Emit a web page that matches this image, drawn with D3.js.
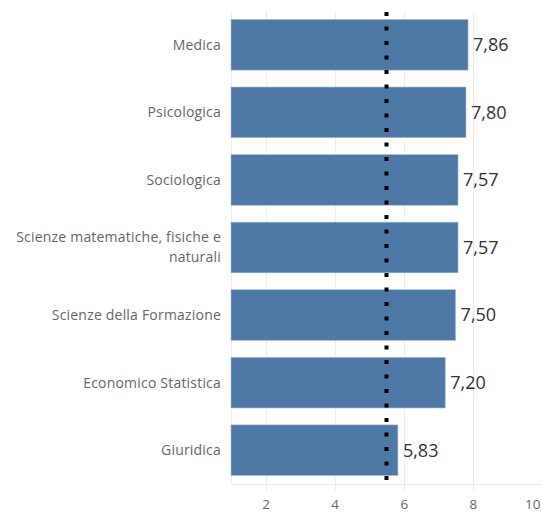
<!DOCTYPE html>
<html>
<head>
<meta charset="utf-8">
<script src="https://cdn.jsdelivr.net/npm/d3@7"></script>
<style>
  body { margin: 0; background: #fff; }
  .cat-label { font-family: "Open Sans", sans-serif; font-size: 14px; letter-spacing: 0.2px; fill: #666; }
  .val-label { font-family: "Open Sans", sans-serif; font-size: 18px; fill: #333; }
  .x-axis text { font-family: "Open Sans", sans-serif; font-size: 13.5px; fill: #666; }
</style>
</head>
<body>
<div id="chart"></div>
<script>
// data
var categories = [
    "Medica",
    "Psicologica",
    "Sociologica",
    "Scienze matematiche, fisiche e naturali",
    "Scienze della Formazione",
    "Economico Statistica",
    "Giuridica"
];
var values = [7.86, 7.80, 7.57, 7.57, 7.50, 7.20, 5.83];
var referenceValue = [5.5];
var xTicks = [2, 4, 6, 8, 10];

var width = 542, height = 515;

var x = d3.scaleLinear()
    .domain([1, 10])
    .range([231, 542]);

var y = d3.scaleBand()
    .domain(categories)
    .range([11, 484])
    .paddingInner(0.25)
    .paddingOuter(0.125);

var fmt = function(v) { return d3.format(".2f")(v).replace(".", ","); };

var svg = d3.select("#chart")
    .append("svg")
    .attr("width", width)
    .attr("height", height);

// gridlines + tick marks
svg.append("g")
    .selectAll("line")
    .data(xTicks)
    .join("line")
    .attr("x1", d => Math.round(x(d)) + 0.5)
    .attr("x2", d => Math.round(x(d)) + 0.5)
    .attr("y1", 11)
    .attr("y2", 491)
    .attr("stroke", "#ececec")
    .attr("stroke-width", 1);

// left edge + bottom axis line
svg.append("line")
    .attr("x1", x(1) + 0.5).attr("x2", x(1) + 0.5)
    .attr("y1", 11).attr("y2", 484)
    .attr("stroke", "#ececec");
svg.append("line")
    .attr("x1", x(1)).attr("x2", width)
    .attr("y1", 484.5).attr("y2", 484.5)
    .attr("stroke", "#ececec");

// x axis labels
var xAxis = svg.append("g")
    .attr("class", "x-axis")
    .attr("transform", "translate(0,484)")
    .call(d3.axisBottom(x).tickValues(xTicks).tickSize(0).tickPadding(15));
xAxis.select(".domain").remove();
xAxis.selectAll(".tick")
    .filter(d => d === 10)
    .select("text")
    .attr("text-anchor", "end")
    .attr("dx", -2);

// bars
svg.append("g")
    .selectAll("rect")
    .data(values)
    .join("rect")
    .attr("x", x(1))
    .attr("y", (d, i) => y(categories[i]))
    .attr("width", d => x(d) - x(1))
    .attr("height", y.bandwidth())
    .attr("fill", "#4e79a7")
    .attr("stroke", "#a9bdd6")
    .attr("stroke-width", 0.6);

// value labels
svg.append("g")
    .selectAll("text")
    .data(values)
    .join("text")
    .attr("class", "val-label")
    .attr("x", d => x(d) + 5)
    .attr("y", (d, i) => y(categories[i]) + y.bandwidth() / 2)
    .attr("dy", "0.35em")
    .text(d => fmt(d));

// category labels (wrap long ones on the last word)
var catG = svg.append("g");
categories.forEach(function(c) {
    var cy = y(c) + y.bandwidth() / 2;
    var lines = [c];
    if (c.length > 30) {
        var words = c.split(" ");
        lines = [words.slice(0, -1).join(" "), words[words.length - 1]];
    }
    var t = catG.append("text")
        .attr("class", "cat-label")
        .attr("text-anchor", "end");
    lines.forEach(function(l, j) {
        t.append("tspan")
            .attr("x", 221)
            .attr("y", cy + (j - (lines.length - 1) / 2) * 20)
            .attr("dy", "0.35em")
            .text(l);
    });
});

// dotted reference line
svg.append("g")
    .selectAll("line")
    .data(referenceValue)
    .join("line")
    .attr("x1", d => x(d))
    .attr("x2", d => x(d))
    .attr("y1", 12)
    .attr("y2", 480)
    .attr("stroke", "#000")
    .attr("stroke-width", 4)
    .attr("stroke-dasharray", "4 10.5");
</script>
</body>
</html>
